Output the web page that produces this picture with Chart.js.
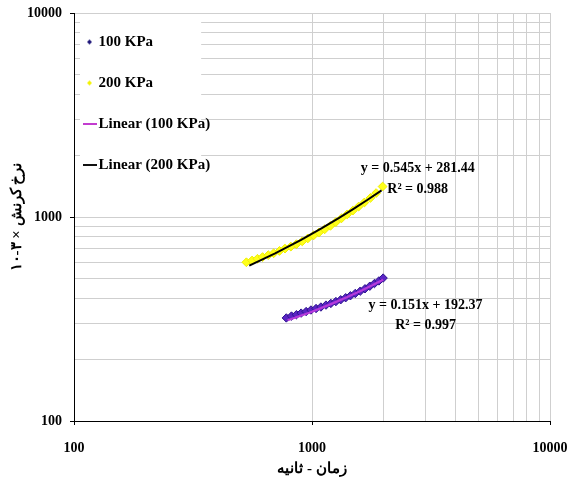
<!DOCTYPE html>
<html>
<head>
<meta charset="utf-8">
<script src="https://cdn.jsdelivr.net/npm/chart.js@4/dist/chart.umd.min.js"></script>
<style>
  html, body { margin: 0; padding: 0; background: #fff; }
  #wrap { width: 569px; height: 479px; }
</style>
</head>
<body>
<div id="wrap"><canvas id="chart"></canvas></div>
<script>
const TIME_100 = [780, 820, 860, 900, 945, 990, 1040, 1090, 1145, 1200, 1260, 1320, 1385, 1450, 1520, 1595, 1670, 1750, 1830, 1910, 1990];
const RATE_100 = [320, 327, 332, 338, 344, 350, 356, 362, 370, 377, 385, 393, 402, 411, 422, 433, 445, 458, 472, 486, 502];

const TIME_200 = [530, 560, 590, 620, 655, 690, 730, 770, 815, 860, 910, 960, 1015, 1070, 1130, 1195, 1260, 1330, 1405, 1485, 1570, 1660, 1760, 1860, 1980];
const RATE_200 = [600, 612, 624, 636, 650, 664, 682, 700, 716, 736, 760, 785, 812, 840, 870, 905, 945, 985, 1030, 1075, 1125, 1178, 1240, 1310, 1410];

// trendlines as drawn in the picture
const TREND_100_X = [790, 1000, 1200, 1400, 1600, 1800, 1990];
const TREND_100_Y = [312, 343, 374, 404, 434, 464, 493];
const TREND_200_X = [545, 700, 900, 1100, 1300, 1500, 1700, 1960];
const TREND_200_Y = [578, 663, 772, 881, 990, 1099, 1208, 1350];

const X_TICKS = [100, 1000, 2000, 3000, 4000, 5000, 6000, 7000, 8000, 9000, 10000];
const Y_TICKS = [100, 200, 300, 400, 500, 600, 700, 800, 900, 1000, 2000, 3000, 4000, 5000, 6000, 7000, 8000, 9000, 10000];
const MAJOR = [100, 1000, 10000];

const SERIES_NAMES = ['100 KPa', '200 KPa', 'Linear (100 KPa)', 'Linear (200 KPa)'];
const EQ_200 = ['y = 0.545x + 281.44', 'R² = 0.988'];
const EQ_100 = ['y = 0.151x + 192.37', 'R² = 0.997'];

const X_TITLE = 'زمان - ثانیه';
// written so the canvas bidi shows it like the original (۱۰-۳ at the bottom)
const Y_TITLE = '۱۰-۳ × نرخ کرنش';

const FONT = "'Liberation Serif', 'Times New Roman', serif";
const GRID = '#cfcfcf';

const pts = (xs, ys) => xs.map((x, i) => ({ x, y: ys[i] }));

function diamondIcon(color, r) {
  const c = document.createElement('canvas');
  c.width = c.height = 2 * r + 2;
  const g = c.getContext('2d');
  const m = r + 1;
  g.fillStyle = color;
  g.beginPath();
  g.moveTo(m - r, m); g.lineTo(m, m - r); g.lineTo(m + r, m); g.lineTo(m, m + r);
  g.closePath();
  g.fill();
  return c;
}

function lineIcon(color, w) {
  const c = document.createElement('canvas');
  c.width = w; c.height = 4;
  const g = c.getContext('2d');
  g.fillStyle = color;
  g.fillRect(0, 1, w, 2);
  return c;
}

const LEGEND_ICONS = [
  diamondIcon('#1c1478', 2.5),
  diamondIcon('#f2f200', 2.5),
  lineIcon('#c23ccf', 14),
  lineIcon('#111111', 14)
];

// legend sits inside the plot, on a white box, drawn above the grid
const legendBox = {
  id: 'legendBox',
  beforeUpdate(chart) {
    const lg = chart.legend;
    if (lg && !lg._lifted) {
      lg._layers = () => [{ z: 1, draw: (area) => lg.draw(area) }];
      lg._lifted = true;
    }
  },
  afterLayout(chart) {
    const lg = chart.legend;
    const area = chart.chartArea;
    const nl = area.left - 12, nt = area.top - 4.5;
    const dx = nl - lg.left, dy = nt - lg.top;
    lg.left = nl; lg.top = nt;
    (lg.legendHitBoxes || []).forEach(h => { h.left += dx; h.top += dy; });
  },
  beforeDatasetsDraw(chart) {
    const lg = chart.legend;
    const area = chart.chartArea;
    const hb = lg.legendHitBoxes || [];
    if (!hb.length) return;
    const right = Math.max(...hb.map(h => h.left + h.width)) + 3;
    const bottom = Math.max(...hb.map(h => h.top + h.height)) + 16;
    const ctx = chart.ctx;
    ctx.save();
    ctx.fillStyle = '#fff';
    ctx.fillRect(area.left + 6, area.top + 2, right - area.left - 6, bottom - area.top - 2);
    ctx.restore();
  }
};

// trendline equations
const equations = {
  id: 'equations',
  afterDatasetsDraw(chart) {
    const { ctx, scales: { x, y } } = chart;
    const blocks = [
      { lines: EQ_200, at: [2780, 1730], at2: [2780, 1364] },
      { lines: EQ_100, at: [3000, 368], at2: [3000, 294] }
    ];
    ctx.save();
    ctx.fillStyle = '#000';
    ctx.font = 'bold 14px ' + FONT;
    ctx.textAlign = 'center';
    ctx.textBaseline = 'middle';
    for (const b of blocks) {
      ctx.fillText(b.lines[0], x.getPixelForValue(b.at[0]), y.getPixelForValue(b.at[1]));
      ctx.fillText(b.lines[1], x.getPixelForValue(b.at2[0]), y.getPixelForValue(b.at2[1]));
    }
    ctx.restore();
  }
};

const tickFont = { family: FONT, size: 14, weight: 'bold' };
const gridColor = (c) => (c.tick && c.tick.value === 100) ? 'rgba(0,0,0,0)' : GRID;
const tickColor = (c) => (c.tick && MAJOR.includes(c.tick.value)) ? '#000' : 'rgba(0,0,0,0)';

new Chart(document.getElementById('chart'), {
  type: 'scatter',
  data: {
    datasets: [
      {
        label: SERIES_NAMES[0],
        data: pts(TIME_100, RATE_100),
        pointStyle: 'rectRot',
        pointRadius: 4.2,
        backgroundColor: '#5b25c4',
        borderColor: '#2c128e',
        borderWidth: 1,
        order: 2
      },
      {
        label: SERIES_NAMES[1],
        data: pts(TIME_200, RATE_200),
        pointStyle: 'rectRot',
        pointRadius: 4.4,
        backgroundColor: '#ffff1a',
        borderColor: '#eeee00',
        borderWidth: 1,
        order: 2
      },
      {
        label: SERIES_NAMES[2],
        data: pts(TREND_100_X, TREND_100_Y),
        showLine: true,
        pointRadius: 0,
        borderColor: '#b63ada',
        borderWidth: 2.2,
        order: 1
      },
      {
        label: SERIES_NAMES[3],
        data: pts(TREND_200_X, TREND_200_Y),
        showLine: true,
        pointRadius: 0,
        borderColor: '#000',
        borderWidth: 2,
        order: 1
      }
    ]
  },
  options: {
    responsive: true,
    maintainAspectRatio: false,
    animation: false,
    layout: { padding: { top: 13, right: 19, left: 0, bottom: 0 } },
    plugins: {
      tooltip: { enabled: false },
      legend: {
        position: 'chartArea',
        align: 'start',
        labels: {
          usePointStyle: true,
          pointStyleWidth: 3,
          padding: 26,
          color: '#000',
          font: { family: FONT, size: 15, weight: 'bold' },
          sort: (a, b) => a.datasetIndex - b.datasetIndex,
          generateLabels: (chart) =>
            Chart.defaults.plugins.legend.labels.generateLabels(chart)
              .map(item => ({ ...item, pointStyle: LEGEND_ICONS[item.datasetIndex] }))
        }
      }
    },
    scales: {
      x: {
        type: 'logarithmic',
        min: 100,
        max: 10000,
        afterBuildTicks: (s) => { s.ticks = X_TICKS.map(v => ({ value: v, major: MAJOR.includes(v) })); },
        afterFit: (s) => { s.height = 58; s.paddingLeft = 0; s.paddingRight = 0; },
        ticks: {
          autoSkip: false,
          maxRotation: 0,
          padding: 15,
          color: '#000',
          font: tickFont,
          callback: (v) => MAJOR.includes(v) ? String(v) : ''
        },
        grid: { color: gridColor, tickColor: tickColor, tickLength: 4, lineWidth: 1 },
        border: { color: '#000', width: 1 },
        title: {
          display: true,
          text: X_TITLE,
          color: '#000',
          font: { family: FONT, size: 15, weight: 'bold' },
          padding: { top: 0, bottom: 1 }
        }
      },
      y: {
        type: 'logarithmic',
        min: 100,
        max: 10000,
        afterBuildTicks: (s) => { s.ticks = Y_TICKS.map(v => ({ value: v, major: MAJOR.includes(v) })); },
        afterFit: (s) => { s.width = 74; s.paddingTop = 0; s.paddingBottom = 0; },
        ticks: {
          autoSkip: false,
          padding: 8,
          color: '#000',
          font: tickFont,
          callback: (v) => MAJOR.includes(v) ? String(v) : ''
        },
        grid: { color: gridColor, tickColor: tickColor, tickLength: 4, lineWidth: 1 },
        border: { color: '#000', width: 1 },
        title: {
          display: true,
          text: Y_TITLE,
          color: '#000',
          font: { family: FONT, size: 15, weight: 'bold' },
          padding: { top: 8, bottom: 0 }
        }
      }
    }
  },
  plugins: [legendBox, equations]
});
</script>
</body>
</html>
